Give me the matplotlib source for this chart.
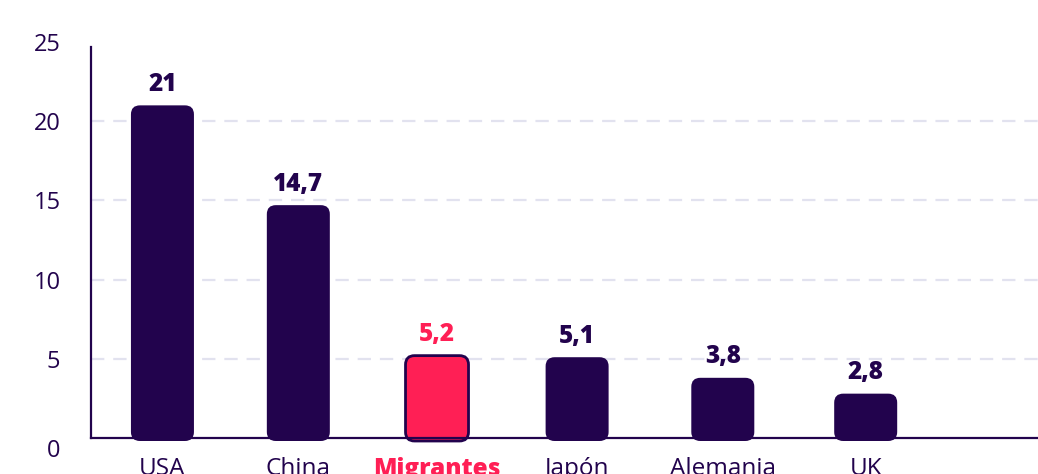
import numpy as np
import matplotlib
matplotlib.use('Agg')
import matplotlib.pyplot as plt
from matplotlib.patches import FancyBboxPatch
import matplotlib.transforms as mtransforms

# ===========================
# data
# ===========================
paises = ['USA', 'China', 'Migrantes', 'Japón', 'Alemania', 'UK']
valores = [21, 14.7, 5.2, 5.1, 3.8, 2.8]
etiquetas = ['21', '14,7', '5,2', '5,1', '3,8', '2,8']
destacado = 'Migrantes'
yticks = [0, 5, 10, 15, 20, 25]

morado = '#22034d'
rosa = '#ff1f55'
gris = '#e2e2ef'

plt.rcParams['font.family'] = ['Open Sans', 'DejaVu Sans']

W, H = 1038, 474
fig = plt.figure(figsize=(W / 100, H / 100), dpi=100)
ax = fig.add_axes([91 / W, 36 / H, 947 / W, 396 / H])

x = np.array([0, 0.97, 1.96, 2.96, 4.0, 5.02])
xmin, xmax = -0.51, 6.25
ymin, ymax = 0, 25
ax.set_xlim(xmin, xmax)
ax.set_ylim(ymin, ymax)

# pixels per data unit, for rounded corners
px_x = 947 / (xmax - xmin)
px_y = 396 / (ymax - ymin)
ancho = 63 / px_x
radio = 9 / px_x
aspecto = px_x / px_y

# grid
for yv in yticks[1:-1]:
    ax.axhline(yv, color=gris, lw=1.6, dashes=(6, 4), zorder=0)

for xi, v, lab, p in zip(x, valores, etiquetas, paises):
    es_dest = p == destacado
    color = rosa if es_dest else morado
    bar = FancyBboxPatch((xi - ancho / 2, -3 / px_y), ancho, v + 3 / px_y,
                         boxstyle=f'round,pad=0,rounding_size={radio}',
                         mutation_aspect=aspecto,
                         facecolor=color, edgecolor=morado,
                         lw=2 if es_dest else 0, zorder=3, clip_on=False)
    ax.add_patch(bar)
    ax.annotate(lab, (xi, v), xytext=(0, 6), textcoords='offset points',
                ha='center', va='bottom', fontsize=17.5, fontweight='heavy',
                color=color)

# axes styling
for s in ['top', 'right']:
    ax.spines[s].set_visible(False)
for s in ['left', 'bottom']:
    ax.spines[s].set_color(morado)
    ax.spines[s].set_linewidth(1.6)
ax.spines['bottom'].set_zorder(4)
ax.spines['left'].set_bounds(0, 24.7)

ax.set_yticks(yticks)
ax.set_yticklabels([str(t) for t in yticks])
ax.tick_params(axis='y', length=0, pad=22, labelsize=17, labelcolor=morado)
ax.set_xticks(x)
ax.set_xticklabels(paises)
ax.tick_params(axis='x', length=0, pad=14, labelsize=17.5, labelcolor=morado)
for t in ax.get_xticklabels():
    if t.get_text() == destacado:
        t.set_color(rosa)
        t.set_fontweight('heavy')

# the 0 label sits a bit below the axis line
lab0 = ax.get_yticklabels()[0]
lab0.set_transform(lab0.get_transform() +
                   mtransforms.ScaledTranslation(0, -10 / 100, fig.dpi_scale_trans))

fig.savefig('out.png', dpi=100)
